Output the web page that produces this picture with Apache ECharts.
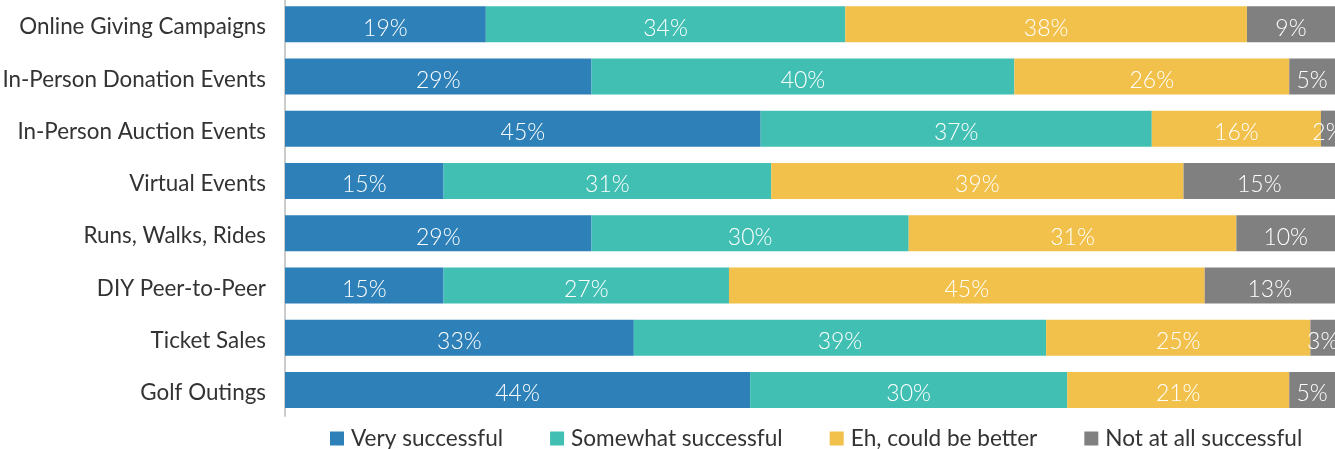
<!DOCTYPE html>
<html>
<head>
<meta charset="utf-8">
<script src="https://cdn.jsdelivr.net/npm/echarts@6/dist/echarts.min.js"></script>
<style>html,body{margin:0;padding:0;background:#fff}#c{width:1335px;height:449px}</style>
</head>
<body>
<div id="c"></div>
<script>
const categories = ["Online Giving Campaigns","In-Person Donation Events","In-Person Auction Events","Virtual Events","Runs, Walks, Rides","DIY Peer-to-Peer","Ticket Sales","Golf Outings"];
const seriesNames = ["Very successful","Somewhat successful","Eh, could be better","Not at all successful"];
const verySuccessful = [19,29,45,15,29,15,33,44];
const somewhatSuccessful = [34,40,37,31,30,27,39,30];
const couldBeBetter = [38,26,16,39,31,45,25,21];
const notAtAll = [9,5,2,15,10,13,3,5];
const colors = ["#2E80B8","#41BFB3","#F2C14B","#808080"];

const dataSets = [verySuccessful, somewhatSuccessful, couldBeBetter, notAtAll];
const FONT = "Lato, 'Open Sans', sans-serif";
const chart = echarts.init(document.getElementById('c'));
chart.setOption({
  animation: false,
  grid: {left: 285, right: 0, top: -2, bottom: 33, containLabel: false, outerBoundsMode: 'none'},
  legend: {
    left: 325, top: 422, itemWidth: 14, itemHeight: 14, itemGap: 47,
    icon: 'rect',
    textStyle: {fontFamily: FONT, fontSize: 22.6, color: '#333', padding: [0,0,0,2]},
    data: seriesNames
  },
  xAxis: {type: 'value', min: 0, max: 99.33, show: false},
  yAxis: {
    type: 'category', data: categories, inverse: true,
    axisLine: {show: true, lineStyle: {color: '#cccccc', width: 2}},
    axisTick: {show: false},
    axisLabel: {
      margin: 19,
      formatter: v => '{a|' + v + '}',
      rich: {a: {fontFamily: FONT, fontSize: 22.4, color: '#333', padding: [6, 0, 0, 0]}}
    }
  },
  series: dataSets.map((d, i) => ({
    name: seriesNames[i], type: 'bar', stack: 'total', barWidth: 36, clip: true,
    itemStyle: {color: colors[i]},
    label: {show: true, position: 'inside', offset: [0, 4], color: '#fff', fontFamily: FONT, fontSize: 23, fontWeight: 300, formatter: p => p.value + '%'},
    data: d
  }))
});
</script>
</body>
</html>
